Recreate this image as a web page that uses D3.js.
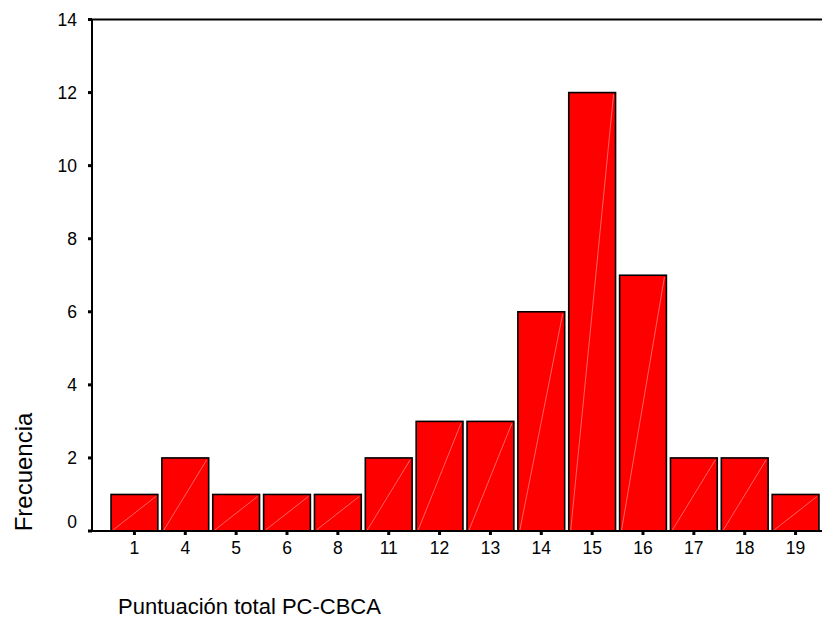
<!DOCTYPE html>
<html>
<head>
<meta charset="utf-8">
<script src="https://cdn.jsdelivr.net/npm/d3@7"></script>
<style>
    body { margin: 0; background: #fff; }
    text { font-family: "Liberation Sans", Arial, sans-serif; fill: #000; }
</style>
</head>
<body>
<div id="chart"></div>
<script>
    // data
    const categories = ["1", "4", "5", "6", "8", "11", "12", "13", "14", "15", "16", "17", "18", "19"];
    const frequencies = [1, 2, 1, 1, 1, 2, 3, 3, 6, 12, 7, 2, 2, 1];
    const yTicks = [0, 2, 4, 6, 8, 10, 12, 14];

    const width = 824, height = 621;
    const margin = { top: 19.5, right: 2, bottom: 90, left: 92 };

    const svg = d3.select("#chart").append("svg")
        .attr("width", width)
        .attr("height", height);

    let y = d3.scaleLinear()
        .domain([0, 14])
        .range([531, 19.5]);

    let x = d3.scaleBand()
        .domain(categories)
        .range([109, 821])
        .paddingInner(0.08)
        .paddingOuter(0.04);

    // frame: left axis + top line
    svg.append("line")
        .attr("x1", margin.left).attr("x2", margin.left)
        .attr("y1", y(14)).attr("y2", y(0))
        .style("stroke", "#000").style("stroke-width", 2);
    svg.append("line")
        .attr("x1", margin.left).attr("x2", width - margin.right)
        .attr("y1", y(14)).attr("y2", y(14))
        .style("stroke", "#000").style("stroke-width", 2);

    // bars
    let bars = svg.append("g").selectAll("g")
        .data(frequencies)
        .enter().append("g");

    bars.append("rect")
        .attr("x", (d, i) => x(categories[i]))
        .attr("y", d => y(d))
        .attr("width", x.bandwidth())
        .attr("height", d => y(0) - y(d))
        .style("fill", "#ff0000")
        .style("stroke", "#000")
        .style("stroke-width", 1.6);

    // faint diagonal sheen on each bar
    bars.append("line")
        .attr("x1", (d, i) => x(categories[i]) + 2)
        .attr("y1", y(0) - 1)
        .attr("x2", (d, i) => x(categories[i]) + x.bandwidth() - 2)
        .attr("y2", d => y(d) + 2)
        .style("stroke", "#ffb0b0")
        .style("stroke-width", 0.7)
        .style("opacity", 0.8);

    // baseline drawn over the bars
    svg.append("line")
        .attr("x1", margin.left).attr("x2", width - margin.right)
        .attr("y1", y(0)).attr("y2", y(0))
        .style("stroke", "#000").style("stroke-width", 2);

    // y ticks and labels (the 0 label sits a bit higher, like the original)
    let yAxis = svg.append("g").selectAll("g")
        .data(yTicks)
        .enter().append("g");
    yAxis.append("rect")
        .attr("x", margin.left - 4)
        .attr("y", d => y(d) - 1.5)
        .attr("width", 4).attr("height", 3)
        .style("fill", "#000");
    yAxis.append("text")
        .attr("x", 77)
        .attr("y", d => y(d) + 6.5 - (d === 0 ? 10 : 0))
        .attr("text-anchor", "end")
        .style("font-size", "17.5px")
        .text(d => d);

    // x ticks and labels
    let xAxis = svg.append("g").selectAll("g")
        .data(categories)
        .enter().append("g");
    xAxis.append("rect")
        .attr("x", d => x(d) + x.bandwidth() / 2 - 1.5)
        .attr("y", y(0))
        .attr("width", 3).attr("height", 4)
        .style("fill", "#000");
    xAxis.append("text")
        .attr("x", d => x(d) + x.bandwidth() / 2)
        .attr("y", 554)
        .attr("text-anchor", "middle")
        .style("font-size", "17.5px")
        .text(d => d);

    // axis titles
    svg.append("text")
        .attr("transform", "translate(32,472) rotate(-90)")
        .attr("text-anchor", "middle")
        .style("font-size", "24px")
        .text("Frecuencia");

    svg.append("text")
        .attr("x", 118)
        .attr("y", 614)
        .style("font-size", "22px")
        .text("Puntuación total PC-CBCA");
</script>
</body>
</html>
